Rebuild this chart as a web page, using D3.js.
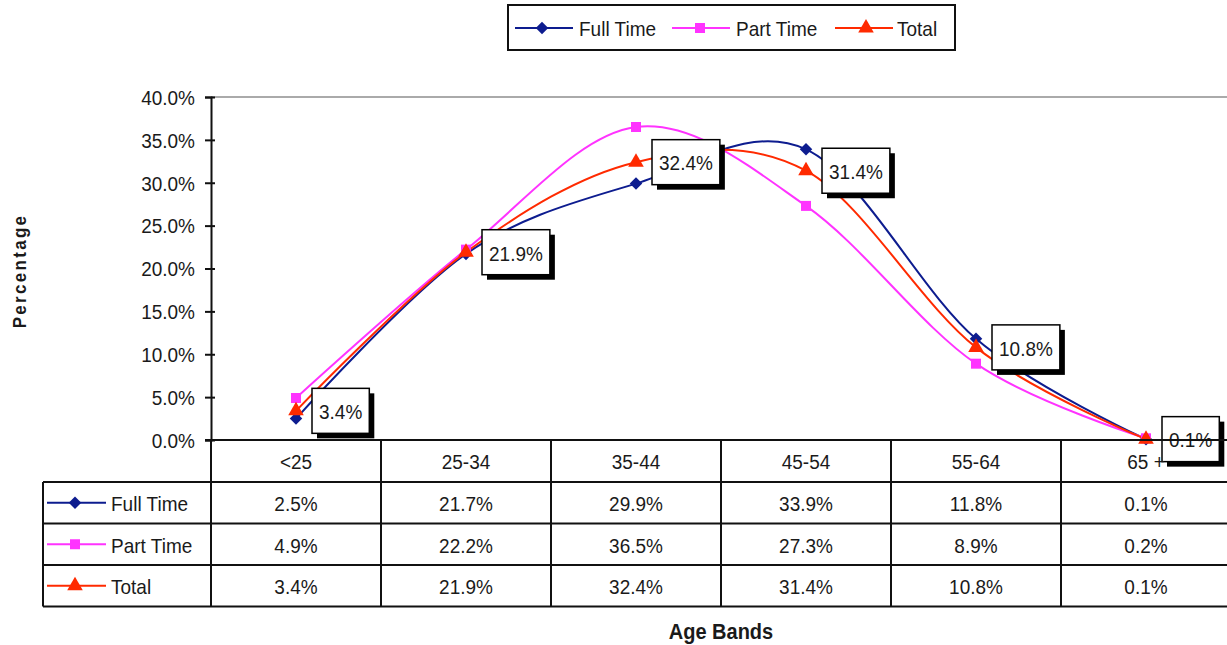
<!DOCTYPE html>
<html>
<head>
<meta charset="utf-8">
<script src="https://cdn.jsdelivr.net/npm/d3@7"></script>
<style>
  html, body { margin: 0; padding: 0; background: #fff; }
  svg { display: block; font-family: "Liberation Sans", Arial, sans-serif; }
</style>
</head>
<body>
<svg id="chart" width="1227" height="645"></svg>
<script>
// Age band distribution (percent) by employment type
const categories = ["<25", "25-34", "35-44", "45-54", "55-64", "65 +"];
const fullTime = [2.5, 21.7, 29.9, 33.9, 11.8, 0.1];
const partTime = [4.9, 22.2, 36.5, 27.3, 8.9, 0.2];
const total    = [3.4, 21.9, 32.4, 31.4, 10.8, 0.1];
const seriesNames = ["Full Time", "Part Time", "Total"];
const yTicks = [0, 5, 10, 15, 20, 25, 30, 35, 40];

// Diamond drawn as a square turned 45 degrees
const diamondWide = {
  draw(context, size) {
    const r = Math.sqrt(size / 2);
    context.moveTo(0, -r);
    context.lineTo(r, 0);
    context.lineTo(0, r);
    context.lineTo(-r, 0);
    context.closePath();
  }
};

const series = [
  { name: seriesNames[0], values: fullTime, color: "#0d1c8f", symbol: diamondWide, size: 78 },
  { name: seriesNames[1], values: partTime, color: "#ff33ff", symbol: d3.symbolSquare, size: 100 },
  { name: seriesNames[2], values: total,    color: "#ff2a00", symbol: d3.symbolTriangle, size: 105 }
];

const svg = d3.select("#chart");
const FONT = 19;
const STRETCH = 1.1;
const textColor = "#1a1a1a";

// Text placed at (px, py) with a slight vertical stretch of the glyphs
function stretchedText(parent, px, py, str, opts = {}) {
  return parent.append("text")
    .attr("transform", `translate(${px},${py}) scale(1,${STRETCH})`)
    .attr("text-anchor", opts.anchor || "start")
    .attr("dominant-baseline", "central")
    .attr("font-size", opts.size || FONT)
    .attr("font-weight", opts.weight || "normal")
    .attr("fill", textColor)
    .text(str);
}

const plot = { left: 211, right: 1231, top: 97, bottom: 440 };
const x = d3.scaleBand().domain(categories).range([plot.left, plot.right]).padding(0);
const cx = c => x(c) + x.bandwidth() / 2;
const y = d3.scaleLinear().domain([0, 40]).range([plot.bottom, plot.top]);

// Plot area top border
svg.append("line")
  .attr("x1", plot.left).attr("x2", 1227)
  .attr("y1", plot.top).attr("y2", plot.top)
  .attr("stroke", "#aaa").attr("stroke-width", 2);

// Y axis
const yAxis = svg.append("g")
  .attr("transform", `translate(${plot.left},0)`)
  .call(d3.axisLeft(y).tickValues(yTicks).tickFormat(d => d.toFixed(1) + "%").tickSize(6).tickPadding(10));
yAxis.select(".domain").attr("stroke", "#111").attr("stroke-width", 2);
yAxis.selectAll(".tick line").attr("x2", 4).attr("x1", -6).attr("stroke", "#111").attr("stroke-width", 2);
yAxis.selectAll(".tick text")
  .attr("font-size", FONT).attr("fill", textColor)
  .attr("font-family", "'Liberation Sans', Arial, sans-serif")
  .attr("dy", null).attr("y", 0)
  .attr("dominant-baseline", "central")
  .attr("transform", `scale(1,${STRETCH})`);

// Y axis title
svg.append("text")
  .attr("transform", "translate(20,271) rotate(-90) scale(1,1.05)")
  .attr("text-anchor", "middle")
  .attr("dominant-baseline", "central")
  .attr("font-size", 17).attr("font-weight", "bold").attr("fill", textColor)
  .attr("letter-spacing", 2.3)
  .text("Percentage");

// Smoothed series lines
const line = d3.line()
  .x((d, i) => cx(categories[i]))
  .y(d => y(d))
  .curve(d3.curveCatmullRom.alpha(0));

const lines = svg.append("g");
series.forEach(s => {
  lines.append("path")
    .attr("d", line(s.values))
    .attr("fill", "none")
    .attr("stroke", s.color)
    .attr("stroke-width", 2);
});
series.forEach(s => {
  lines.selectAll(null).data(s.values).join("path")
    .attr("transform", (d, i) => `translate(${cx(categories[i])},${y(d)})`)
    .attr("d", d3.symbol(s.symbol, s.size))
    .attr("fill", s.color);
});

// Data labels for the Total series
const labels = svg.append("g");
total.forEach((v, i) => {
  const txt = v.toFixed(1) + "%";
  const g = labels.append("g")
    .attr("transform", `translate(${cx(categories[i]) + 16},${y(v)})`);
  const t = stretchedText(g, 7, 1, txt);
  const w = t.node().getComputedTextLength() + 14;
  const h = 45;
  g.insert("rect", "text")
    .attr("x", 5).attr("y", -h / 2 + 5).attr("width", w).attr("height", h)
    .attr("fill", "#000");
  g.insert("rect", "text")
    .attr("x", 0).attr("y", -h / 2).attr("width", w).attr("height", h)
    .attr("fill", "#fff").attr("stroke", "#000").attr("stroke-width", 1.5);
});

// Data table beneath the plot
const table = svg.append("g");
const rowTop = 440, headH = 42, rowH = 41.5;
const rowY = [rowTop + headH, rowTop + headH + rowH, rowTop + headH + 2 * rowH, rowTop + headH + 3 * rowH];
const tableLeft = 43;
function hline(x1, x2, yy) {
  table.append("line").attr("x1", x1).attr("x2", x2).attr("y1", yy).attr("y2", yy)
    .attr("stroke", "#111").attr("stroke-width", 2);
}
function vline(xx, y1, y2) {
  table.append("line").attr("x1", xx).attr("x2", xx).attr("y1", y1).attr("y2", y2)
    .attr("stroke", "#111").attr("stroke-width", 2);
}
hline(plot.left - 6, plot.right, rowTop);
rowY.forEach(yy => hline(tableLeft, plot.right, yy));
vline(tableLeft, rowY[0], rowY[3]);
categories.forEach(c => vline(x(c), rowTop, rowY[3]));
vline(plot.right, rowTop, rowY[3]);

// Header: category names
categories.forEach(c => {
  stretchedText(table, cx(c), rowTop + headH / 2 + 1, c, { anchor: "middle" });
});

// Rows: legend key + values
series.forEach((s, r) => {
  const yc = rowY[r] + rowH / 2;
  table.append("line").attr("x1", 47).attr("x2", 106).attr("y1", yc).attr("y2", yc)
    .attr("stroke", s.color).attr("stroke-width", 2);
  table.append("path").attr("transform", `translate(75,${yc})`)
    .attr("d", d3.symbol(s.symbol, s.size)).attr("fill", s.color);
  stretchedText(table, 111, yc + 1, s.name);
  s.values.forEach((v, i) => {
    stretchedText(table, cx(categories[i]), yc + 1, v.toFixed(1) + "%", { anchor: "middle" });
  });
});

// X axis title
stretchedText(svg, 721, 631, "Age Bands", { anchor: "middle", size: 20, weight: "bold" });

// Legend
const legend = svg.append("g");
legend.append("rect")
  .attr("x", 508).attr("y", 5).attr("width", 447).attr("height", 45)
  .attr("fill", "#fff").attr("stroke", "#111").attr("stroke-width", 2);
const legendItems = [
  { x1: 515, x2: 573, mx: 542, tx: 579 },
  { x1: 672, x2: 730, mx: 700, tx: 736 },
  { x1: 835, x2: 893, mx: 866, tx: 897 }
];
series.forEach((s, i) => {
  const li = legendItems[i];
  legend.append("line").attr("x1", li.x1).attr("x2", li.x2).attr("y1", 28).attr("y2", 28)
    .attr("stroke", s.color).attr("stroke-width", 2);
  legend.append("path").attr("transform", `translate(${li.mx},28)`)
    .attr("d", d3.symbol(s.symbol, s.size)).attr("fill", s.color);
  stretchedText(legend, li.tx, 29, s.name);
});
</script>
</body>
</html>
